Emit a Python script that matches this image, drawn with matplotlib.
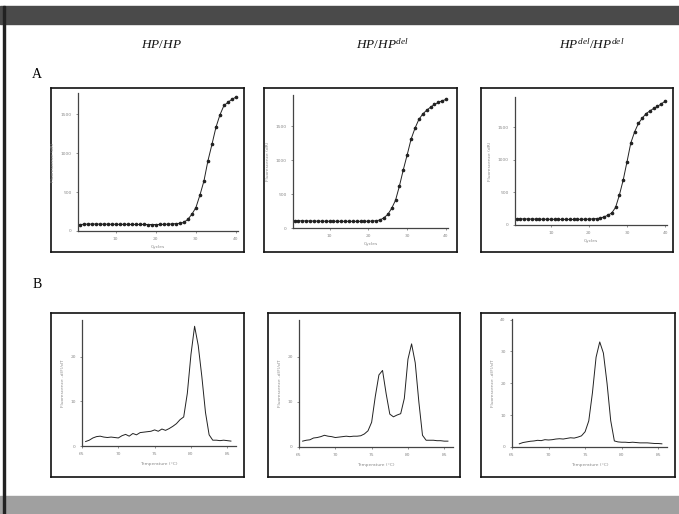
import numpy as np
import matplotlib.pyplot as plt
from matplotlib.patches import Rectangle

plt.rcParams['mathtext.fontset'] = 'custom'
plt.rcParams['mathtext.rm'] = 'Liberation Serif'
plt.rcParams['mathtext.it'] = 'Liberation Serif:italic'

W, H = 679, 514

# ---- data ----
genotypes = [r'$\mathit{HP/HP}$',
             r'$\mathit{HP/HP}^{\mathit{del}}$',
             r'$\mathit{HP}^{\mathit{del}}\mathit{/HP}^{\mathit{del}}$']

cycles = np.arange(1, 41)

amp_hp_hp = [82, 86, 88, 89, 89, 88, 87, 87, 86, 86, 85, 85, 85, 84, 84, 84, 84, 83, 83, 83,
             84, 85, 87, 90, 95, 98, 110, 150, 215, 300, 460, 640, 900, 1110, 1330, 1490,
             1610, 1650, 1690, 1717]
amp_hp_del = [108, 106, 105, 104, 103, 102, 101, 100, 100, 99, 99, 99, 98, 98, 98, 98, 98, 98,
              99, 100, 102, 107, 118, 150, 200, 290, 410, 620, 860, 1080, 1310, 1470, 1600,
              1680, 1735, 1780, 1820, 1850, 1875, 1895]
amp_del_del = [95, 94, 93, 92, 91, 90, 89, 88, 88, 87, 87, 86, 86, 86, 85, 85, 86, 87, 88, 90,
               93, 98, 106, 125, 150, 185, 270, 460, 690, 970, 1260, 1430, 1560, 1640, 1710,
               1750, 1790, 1820, 1860, 1900]

melt_temp = np.arange(65.5, 85.75, 0.5)

melt_hp_hp = [1.0, 1.3, 1.8, 2.1, 2.2, 2.0, 1.9, 2.0, 1.9, 1.8, 2.3, 2.6, 2.2, 2.8, 2.5, 3.0,
              3.1, 3.2, 3.3, 3.6, 3.3, 3.8, 3.5, 3.9, 4.4, 5.0, 5.9, 6.5, 11.8, 20.5, 26.8,
              22.5, 15.5, 7.5, 2.5, 1.3, 1.3, 1.2, 1.3, 1.2, 1.1]
melt_hp_del = [1.3, 1.5, 1.6, 2.0, 2.1, 2.3, 2.6, 2.4, 2.3, 2.1, 2.2, 2.3, 2.4, 2.3, 2.4, 2.4,
               2.5, 2.9, 3.6, 5.5, 11.2, 16.0, 17.0, 11.8, 7.3, 6.7, 7.1, 7.4, 10.8, 19.5, 22.9,
               18.7, 10.0, 2.6, 1.5, 1.5, 1.5, 1.4, 1.4, 1.3, 1.3]
melt_del_del = [1.0, 1.4, 1.6, 1.8, 1.9, 2.1, 2.0, 2.3, 2.2, 2.3, 2.5, 2.6, 2.5, 2.7, 2.9, 2.8,
                3.1, 3.5, 4.8, 8.2, 17.0, 28.2, 33.0, 29.5, 20.0, 8.3, 1.9, 1.6, 1.5, 1.5, 1.4,
                1.5, 1.4, 1.3, 1.3, 1.3, 1.2, 1.1, 1.1, 1.0]

amp_series = [amp_hp_hp, amp_hp_del, amp_del_del]
melt_series = [(melt_temp, melt_hp_hp), (melt_temp, melt_hp_del), (melt_temp[1:], melt_del_del)]

# ---- layout in pixels: (left, top, right, bottom) ----
boxes_a = [(51, 88, 244, 252), (264, 88, 457, 252), (481, 88, 673, 252)]
inner_a = [(78, 93, 238, 231), (293, 95, 448, 228), (515, 97, 667, 225)]
boxes_b = [(51, 313, 244, 477), (268, 313, 460, 477), (481, 313, 675, 477)]
inner_b = [(82, 320, 236, 446), (299, 320, 453, 447), (512, 319, 667, 447)]
amp_ylim = [1770, 1960, 1965]
melt_ylim = [28.2, 28.2, 40.2]
melt_yticks = [[0, 10, 20], [0, 10, 20], [0, 10, 20, 30, 40]]


def rect(l, t, r, b):
    return [l / W, 1 - b / H, (r - l) / W, (b - t) / H]


fig = plt.figure(figsize=(W / 100, H / 100), dpi=100)

# scan bands and left border
fig.patches.append(Rectangle((0, 1 - 24 / H), 1, 18 / H, transform=fig.transFigure,
                             color='#4a4a4a', zorder=0))
fig.patches.append(Rectangle((0, 0), 1, 18 / H, transform=fig.transFigure,
                             color='#a0a0a0', zorder=0))
fig.patches.append(Rectangle((3 / W, 0), 2 / W, 1 - 6 / H, transform=fig.transFigure,
                             color='#222222', zorder=0))

tick_col = '#8a8a8a'
line_col = '#222222'


def frame(box):
    ax = fig.add_axes(rect(*box))
    ax.set_xticks([])
    ax.set_yticks([])
    for s in ax.spines.values():
        s.set_linewidth(1.2)
        s.set_color('#111111')
    ax.patch.set_alpha(0)
    return ax


def style_inner(ax):
    for s in ['top', 'right']:
        ax.spines[s].set_visible(False)
    for s in ['left', 'bottom']:
        ax.spines[s].set_linewidth(0.9)
        ax.spines[s].set_color('#444444')
    ax.tick_params(length=1.5, width=0.5, pad=3, labelsize=3.2,
                   labelcolor=tick_col, colors='#666666')
    ax.patch.set_alpha(0)


# A: amplification curves
for i in range(3):
    frame(boxes_a[i])
    ax = fig.add_axes(rect(*inner_a[i]))
    style_inner(ax)
    ax.plot(cycles, amp_series[i], color=line_col, lw=0.7, marker='o', ms=1.6,
            mfc=line_col, mec=line_col)
    ax.set_xlim(0.6, 40.5)
    ax.set_ylim(0, amp_ylim[i])
    ax.set_yticks([0, 500, 1000, 1500])
    ax.set_xticks([10, 20, 30, 40])
    ax.set_xlabel('Cycles', fontsize=3.2, color=tick_col, labelpad=3)
    ax.set_ylabel('Fluorescence (dR)', fontsize=3.2, color=tick_col, labelpad=4)

# B: melting curves
for i in range(3):
    frame(boxes_b[i])
    ax = fig.add_axes(rect(*inner_b[i]))
    style_inner(ax)
    t, v = melt_series[i]
    ax.plot(t, v, color=line_col, lw=0.7)
    ax.set_xlim(65, 86.2)
    ax.set_ylim(0, melt_ylim[i])
    ax.set_xticks([65, 70, 75, 80, 85])
    ax.set_yticks(melt_yticks[i])
    ax.set_xlabel('Temperature (\u00b0C)', fontsize=3.2, color=tick_col, labelpad=4)
    ax.set_ylabel('Fluorescence -d(F)/dT', fontsize=3.2, color=tick_col, labelpad=4)

# column headers and panel letters
for x, g in zip([161, 383, 592], genotypes):
    fig.text(x / W, 1 - 45 / H, g, fontsize=9.5, ha='center', va='center', color='#111111')
fig.text(37 / W, 1 - 75 / H, 'A', fontsize=10, family='Liberation Serif',
         ha='center', va='center')
fig.text(37 / W, 1 - 285 / H, 'B', fontsize=10, family='Liberation Serif',
         ha='center', va='center')

fig.savefig('out.png', dpi=100, facecolor='white')
